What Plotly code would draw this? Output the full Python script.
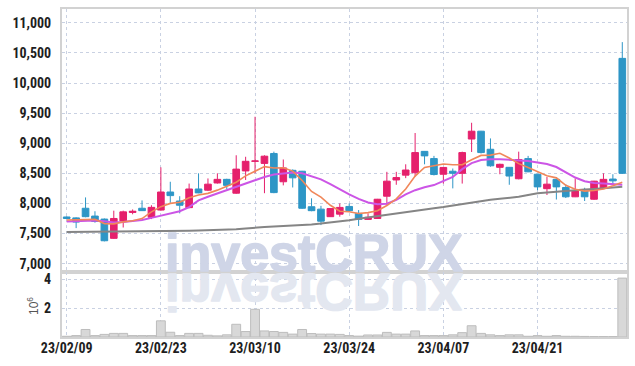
import plotly.graph_objects as go
from plotly.subplots import make_subplots

# ---------------- data ----------------
dates = ["23/02/09", "23/02/10", "23/02/13", "23/02/14", "23/02/15", "23/02/16", "23/02/17", "23/02/20", "23/02/21", "23/02/22",
         "23/02/23", "23/02/24", "23/02/27", "23/02/28", "23/03/02", "23/03/03", "23/03/06", "23/03/07", "23/03/08", "23/03/09",
         "23/03/10", "23/03/13", "23/03/14", "23/03/15", "23/03/16", "23/03/17", "23/03/20", "23/03/21", "23/03/22", "23/03/23",
         "23/03/24", "23/03/27", "23/03/28", "23/03/29", "23/03/30", "23/03/31", "23/04/03", "23/04/04", "23/04/05", "23/04/06",
         "23/04/07", "23/04/10", "23/04/11", "23/04/12", "23/04/13", "23/04/14", "23/04/17", "23/04/18", "23/04/19", "23/04/20",
         "23/04/21", "23/04/24", "23/04/25", "23/04/26", "23/04/27", "23/04/28", "23/05/02", "23/05/03", "23/05/04", "23/05/08"]

open_ = [7775, 7760, 7920, 7790, 7740, 7420, 7710, 7850, 7920, 7770,
         7890, 8190, 8040, 7930, 8240, 8220, 8340, 8400, 8170, 8540,
         8700, 8665, 8830, 8360, 8550, 8535, 7945, 7905, 7780, 7822,
         7950, 7835, 7735, 7750, 8120, 8390, 8470, 8510, 8865, 8745,
         8485, 8535, 8500, 9070, 9200, 8900, 8600, 8600, 8410, 8745,
         8485, 8245, 8400, 8265, 8110, 8205, 8070, 8250, 8405, 10410]
high = [7785, 7770, 8100, 7870, 7750, 7880, 7880, 7900, 8050, 7970,
        8600, 8360, 8120, 8330, 8500, 8415, 8500, 8410, 8800, 8775,
        9440, 8800, 8860, 8730, 8565, 8540, 8085, 7960, 7920, 8000,
        8000, 7890, 7835, 8075, 8525, 8525, 8650, 9170, 8870, 8790,
        8605, 8580, 8860, 9340, 9205, 9080, 8660, 8605, 8860, 8790,
        8490, 8440, 8410, 8315, 8415, 8260, 8375, 8500, 8485, 10680]
low = [7740, 7590, 7770, 7680, 7370, 7410, 7600, 7820, 7875, 7740,
       7880, 8010, 7835, 7920, 8170, 8205, 8330, 8240, 8160, 8390,
       8500, 8170, 8170, 8300, 8265, 7910, 7870, 7640, 7775, 7780,
       7865, 7625, 7730, 7745, 7970, 8310, 8420, 8445, 8650, 8465,
       8330, 8250, 8330, 8855, 8830, 8610, 8485, 8310, 8400, 8520,
       8220, 8140, 8065, 8090, 8105, 8040, 8060, 8245, 8310, 8490]
close = [7750, 7690, 7780, 7700, 7380, 7750, 7860, 7870, 7880, 7935,
         8190, 8130, 7970, 8240, 8175, 8320, 8400, 8300, 8570, 8700,
         8705, 8785, 8180, 8590, 8425, 7920, 7880, 7705, 7915, 7934,
         7880, 7735, 7770, 8070, 8370, 8430, 8555, 8845, 8790, 8480,
         8598, 8500, 8845, 9200, 8845, 8625, 8650, 8455, 8730, 8525,
         8275, 8320, 8275, 8110, 8205, 8110, 8370, 8400, 8375, 8500]

ma5 = [7725, 7728, 7740, 7735, 7665, 7660, 7694, 7712, 7748, 7859,
       7947, 8001, 8021, 8093, 8141, 8167, 8221, 8287, 8353, 8458,
       8535, 8612, 8588, 8592, 8537, 8380, 8199, 8104, 7969, 7871,
       7863, 7834, 7847, 7878, 7965, 8075, 8239, 8454, 8598, 8620,
       8654, 8643, 8643, 8725, 8798, 8803, 8833, 8755, 8661, 8597,
       8527, 8461, 8425, 8301, 8237, 8204, 8214, 8239, 8292, 8351]
ma20 = [7700, 7705, 7712, 7718, 7705, 7685, 7690, 7705, 7725, 7760,
        7800, 7830, 7870, 7940, 8050, 8110, 8165, 8215, 8270, 8330,
        8387, 8440, 8480, 8500, 8515, 8500, 8455, 8400, 8320, 8230,
        8150, 8075, 8015, 7985, 7995, 8060, 8150, 8220, 8270, 8305,
        8370, 8440, 8570, 8670, 8720, 8735, 8735, 8725, 8720, 8705,
        8680, 8655, 8605, 8520, 8430, 8370, 8340, 8330, 8320, 8310]
ma_long = [7525, 7526, 7527, 7528, 7529, 7530, 7531, 7533, 7535, 7537,
           7540, 7542, 7545, 7548, 7552, 7556, 7560, 7565, 7572, 7585,
           7600, 7608, 7615, 7622, 7630, 7640, 7652, 7665, 7680, 7700,
           7720, 7745, 7768, 7790, 7815, 7840, 7860, 7880, 7900, 7920,
           7940, 7965, 7990, 8015, 8040, 8060, 8077, 8093, 8110, 8140,
           8170, 8183, 8197, 8210, 8220, 8230, 8240, 8250, 8260, 8276]

volume_m = [0.05, 0.10, 0.52, 0.10, 0.18, 0.25, 0.25, 0.10, 0.10, 0.10,
            1.12, 0.33, 0.10, 0.25, 0.25, 0.12, 0.08, 0.15, 0.88, 0.38,
            1.92, 0.42, 0.38, 0.32, 0.20, 0.52, 0.24, 0.20, 0.20, 0.18,
            0.10, 0.06, 0.14, 0.14, 0.32, 0.20, 0.20, 0.42, 0.10, 0.10,
            0.10, 0.15, 0.30, 0.78, 0.25, 0.15, 0.10, 0.15, 0.15, 0.05,
            0.10, 0.05, 0.10, 0.05, 0.05, 0.04, 0.03, 0.03, 0.03, 4.08]

price_ticks = [7000, 7500, 8000, 8500, 9000, 9500, 10000, 10500, 11000]
price_tick_labels = ["7,000", "7,500", "8,000", "8,500", "9,000", "9,500", "10,000", "10,500", "11,000"]
volume_ticks = [2, 4]
date_ticks = dates[::10]

# ---------------- styling ----------------
RED = "#e5206c"
BLUE = "#2e96c6"
GRID = "#c9d1e2"
BORDER = "#d2d2d2"
TICKFONT = dict(family="Liberation Sans Narrow, Arial Narrow, Roboto Condensed, DejaVu Sans Condensed, sans-serif",
                size=14, color="#1e1e1e", weight="bold")

fig = make_subplots(rows=2, cols=1, shared_xaxes=True, vertical_spacing=0,
                    row_heights=[0.802, 0.198])

fig.add_trace(go.Candlestick(
    x=dates, open=open_, high=high, low=low, close=close,
    increasing=dict(line=dict(color=RED, width=1), fillcolor=RED),
    decreasing=dict(line=dict(color=BLUE, width=1), fillcolor=BLUE),
    whiskerwidth=0, showlegend=False, hoverinfo="skip"), row=1, col=1)

fig.add_trace(go.Scatter(x=dates, y=ma_long, mode="lines",
                         line=dict(color="#858585", width=2), showlegend=False,
                         hoverinfo="skip"), row=1, col=1)
fig.add_trace(go.Scatter(x=dates, y=ma20, mode="lines",
                         line=dict(color="#cc55e6", width=2), showlegend=False,
                         hoverinfo="skip"), row=1, col=1)
fig.add_trace(go.Scatter(x=dates, y=ma5, mode="lines",
                         line=dict(color="#f0875a", width=1.6), showlegend=False,
                         hoverinfo="skip"), row=1, col=1)

fig.add_trace(go.Bar(x=dates, y=volume_m,
                     marker=dict(color="#d8d8d8", line=dict(color="#bdbdbd", width=1)),
                     showlegend=False, hoverinfo="skip"), row=2, col=1)

common_x = dict(type="category", range=[-0.5, 59.5], tickmode="array",
                tickvals=date_ticks, ticktext=date_ticks,
                showgrid=True, gridcolor=GRID, griddash="dot", gridwidth=1,
                showline=True, linecolor=BORDER, linewidth=2, mirror=True,
                ticks="", automargin=False, zeroline=False)

fig.update_xaxes(**common_x)
fig.update_xaxes(showticklabels=False, rangeslider=dict(visible=False), row=1, col=1)
fig.update_xaxes(showticklabels=True, tickfont=TICKFONT, ticklabelstandoff=-3, row=2, col=1)

fig.update_yaxes(range=[6860, 11230], tickmode="array", tickvals=price_ticks,
                 ticktext=price_tick_labels, tickfont=TICKFONT,
                 showgrid=True, gridcolor=GRID, griddash="dot", gridwidth=1,
                 showline=True, linecolor=BORDER, linewidth=2, mirror=True,
                 ticks="", ticklabelstandoff=6, zeroline=False, automargin=False,
                 row=1, col=1)
fig.update_yaxes(range=[0, 4.5], tickmode="array", tickvals=volume_ticks,
                 ticktext=[str(v) for v in volume_ticks], tickfont=TICKFONT,
                 showgrid=True, gridcolor=GRID, griddash="dot", gridwidth=1,
                 showline=True, linecolor=BORDER, linewidth=2, mirror=True,
                 ticks="", ticklabelstandoff=6, zeroline=False, automargin=False,
                 row=2, col=1)

# watermark
fig.add_annotation(xref="paper", yref="paper", x=0.446, y=0.198,
                   xanchor="center", yanchor="bottom", yshift=-12,
                   text="investCRUX", showarrow=False,
                   font=dict(family="Liberation Sans, Arial, sans-serif", size=52,
                             color="#cfd5e7", weight="bold"))
# volume unit label
fig.add_annotation(xref="paper", yref="paper", x=-0.051, y=0.095,
                   xanchor="center", yanchor="middle", textangle=-90,
                   text="10<sup>6</sup>", showarrow=False,
                   font=dict(family="Liberation Sans, Arial, sans-serif", size=12,
                             color="#555555"))

fig.update_layout(template="none", width=635, height=366,
                  margin=dict(l=62, r=8, t=9, b=29),
                  paper_bgcolor="white", plot_bgcolor="white",
                  bargap=0.06, boxgap=0.2, boxgroupgap=0.12,
                  hovermode=False, showlegend=False)

post = """
(function(){
  document.body.style.margin = '0';
  var gd = document.getElementById('{plot_id}');
  function reflect(){
    gd.querySelectorAll('.wm-reflect').forEach(function(n){ n.remove(); });
    var ann = gd.querySelector('g.annotation[data-index="0"]');
    if(!ann) return;
    var txt = ann.querySelector('text');
    txt.style.stroke = '#cfd5e7';
    txt.style.strokeWidth = '1.6px';
    txt.style.strokeLinejoin = 'round';
    var svg = ann.ownerSVGElement;
    var r = txt.getBoundingClientRect(), s = svg.getBoundingClientRect();
    var fs = parseFloat(txt.style.fontSize) || 52;
    var base = r.bottom - s.top - 0.212 * fs;
    var yb = base + 1.5;
    var clone = ann.cloneNode(true);
    clone.setAttribute('class', 'wm-reflect');
    clone.setAttribute('transform', 'translate(0,' + (2 * yb) + ') scale(1,-1)');
    var t2 = clone.querySelector('text');
    t2.style.fill = '#e3e7f0';
    t2.style.stroke = '#e3e7f0';
    ann.parentNode.insertBefore(clone, ann);
  }
  reflect();
  gd.on('plotly_afterplot', reflect);
})();
"""

fig.write_html("out.html", config={"displayModeBar": False}, post_script=post)
